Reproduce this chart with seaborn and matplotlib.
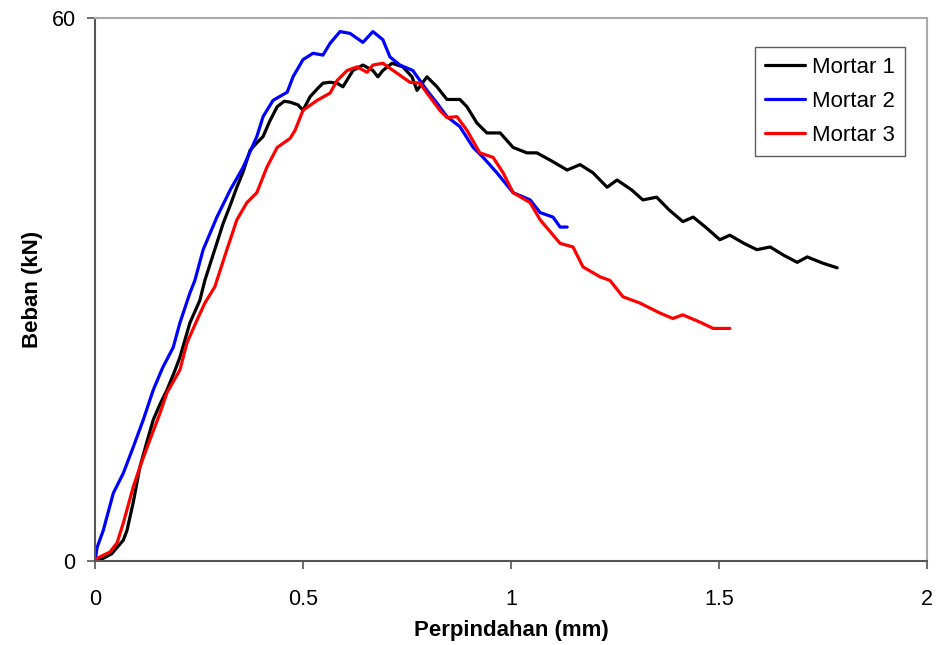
import numpy as np
import pandas as pd
import matplotlib
matplotlib.use('Agg')
import matplotlib.pyplot as plt
import seaborn as sns

# Mortar 1 (black)
m1_x = [0, 0.02, 0.04, 0.053, 0.068, 0.077, 0.092, 0.108, 0.125, 0.14, 0.156, 0.173, 0.19, 0.204,
        0.228, 0.252, 0.264, 0.285, 0.308, 0.325, 0.341, 0.356, 0.373, 0.389, 0.404, 0.42, 0.438,
        0.455, 0.469, 0.488, 0.5, 0.517, 0.535, 0.548, 0.565, 0.582, 0.596, 0.62, 0.644, 0.668,
        0.68, 0.692, 0.714, 0.74, 0.762, 0.774, 0.798, 0.822, 0.846, 0.877, 0.894, 0.918, 0.942,
        0.974, 1.005, 1.038, 1.062, 1.094, 1.135, 1.166, 1.197, 1.231, 1.255, 1.29, 1.317, 1.35,
        1.38, 1.413, 1.438, 1.47, 1.502, 1.526, 1.56, 1.591, 1.623, 1.655, 1.688, 1.712, 1.75, 1.784]
m1_y = [0, 0.3, 0.8, 1.5, 2.3, 3.4, 6.5, 10.4, 13.2, 15.6, 17.3, 18.9, 20.8, 22.5,
        26.3, 28.8, 31.0, 34.0, 37.3, 39.3, 41.3, 43.0, 45.4, 46.2, 46.9, 48.6, 50.2,
        50.8, 50.7, 50.4, 49.8, 51.3, 52.2, 52.8, 52.9, 52.8, 52.4, 54.2, 54.8, 54.2,
        53.5, 54.2, 55.0, 54.6, 53.5, 52.0, 53.5, 52.4, 51.0, 51.0, 50.2, 48.4, 47.3,
        47.3, 45.7, 45.1, 45.1, 44.3, 43.2, 43.8, 42.9, 41.3, 42.1, 41.0, 39.9, 40.2,
        38.8, 37.5, 38.0, 36.8, 35.5, 36.0, 35.1, 34.4, 34.7, 33.8, 33.0, 33.6, 32.9, 32.4]

# Mortar 2 (blue)
m2_x = [0, 0.005, 0.02, 0.044, 0.068, 0.092, 0.116, 0.14, 0.163, 0.188, 0.204, 0.228, 0.24,
        0.26, 0.293, 0.325, 0.356, 0.389, 0.404, 0.428, 0.462, 0.476, 0.5, 0.524, 0.548, 0.565,
        0.589, 0.613, 0.644, 0.668, 0.692, 0.709, 0.733, 0.764, 0.781, 0.798, 0.822, 0.846,
        0.877, 0.909, 0.933, 0.966, 1.005, 1.046, 1.07, 1.101, 1.118, 1.135]
m2_y = [0, 1.5, 3.4, 7.5, 9.7, 12.6, 15.6, 18.9, 21.4, 23.6, 26.3, 29.6, 31.0,
        34.4, 38.0, 41.0, 43.5, 46.9, 49.1, 50.9, 51.8, 53.5, 55.4, 56.1, 55.9, 57.2,
        58.5, 58.3, 57.3, 58.5, 57.6, 55.7, 54.8, 54.2, 53.1, 52.0, 50.6, 49.1,
        48.0, 45.7, 44.6, 42.9, 40.7, 39.9, 38.5, 38.0, 36.9, 36.9]

# Mortar 3 (red)
m3_x = [0, 0.005, 0.036, 0.053, 0.068, 0.092, 0.108, 0.132, 0.156, 0.173, 0.204, 0.221, 0.245,
        0.264, 0.288, 0.317, 0.341, 0.365, 0.389, 0.413, 0.438, 0.469, 0.481, 0.5, 0.534, 0.565,
        0.582, 0.606, 0.63, 0.654, 0.668, 0.692, 0.726, 0.757, 0.781, 0.798, 0.829, 0.846, 0.87,
        0.894, 0.925, 0.957, 0.981, 1.005, 1.046, 1.07, 1.118, 1.149, 1.173, 1.214, 1.238, 1.269,
        1.31, 1.358, 1.389, 1.413, 1.454, 1.486, 1.526]
m3_y = [0, 0.3, 1.0, 2.0, 4.2, 8.2, 10.4, 13.4, 16.3, 18.6, 21.1, 24.1, 26.6,
        28.5, 30.3, 34.4, 37.7, 39.6, 40.7, 43.5, 45.7, 46.7, 47.6, 49.8, 50.9, 51.7,
        53.1, 54.2, 54.6, 54.0, 54.8, 55.0, 53.9, 52.9, 52.8, 51.7, 49.8, 49.0, 49.1,
        47.6, 45.1, 44.6, 42.9, 40.7, 39.6, 37.7, 35.1, 34.7, 32.5, 31.4, 31.0, 29.2,
        28.5, 27.4, 26.8, 27.2, 26.4, 25.7, 25.7]

labels = ['Mortar 1', 'Mortar 2', 'Mortar 3']
colors = ['#000000', '#0000ff', '#ff0000']

df = pd.concat([
    pd.DataFrame({'x': m1_x, 'y': m1_y, 'series': labels[0]}),
    pd.DataFrame({'x': m2_x, 'y': m2_y, 'series': labels[1]}),
    pd.DataFrame({'x': m3_x, 'y': m3_y, 'series': labels[2]}),
], ignore_index=True)

sns.set_style('white')
plt.rcParams['font.family'] = ['Liberation Sans', 'DejaVu Sans']
plt.rcParams['text.color'] = 'black'
plt.rcParams['axes.labelcolor'] = 'black'
plt.rcParams['xtick.labelcolor'] = 'black'
plt.rcParams['ytick.labelcolor'] = 'black'

fig = plt.figure(figsize=(9.36, 6.45), dpi=100)
ax = fig.add_axes([0.1015, 0.1302, 0.8889, 0.8419])

sns.lineplot(data=df, x='x', y='y', hue='series', palette=dict(zip(labels, colors)),
             sort=False, estimator=None, linewidth=2.3, ax=ax)

ax.set_xlim(0, 2)
ax.set_ylim(0, 60)
ax.set_xticks([0, 0.5, 1, 1.5, 2])
ax.set_xticklabels(['0', '0.5', '1', '1.5', '2'])
ax.set_yticks([0, 60])
ax.set_yticklabels(['0', '60'])
ax.tick_params(axis='both', direction='out', length=6, width=1.2, color='#555555',
               labelsize=15.5, left=True, bottom=True)
ax.tick_params(axis='x', pad=14)
ax.tick_params(axis='y', pad=8)
ax.set_xlabel('Perpindahan (mm)', fontsize=16, fontweight='bold', labelpad=7)
ax.set_ylabel('Beban (kN)', fontsize=16, fontweight='bold', labelpad=6)

for side in ['left', 'bottom']:
    ax.spines[side].set_color('#555555')
    ax.spines[side].set_linewidth(1.5)
for side in ['top', 'right']:
    ax.spines[side].set_color('#aaaaaa')
    ax.spines[side].set_linewidth(1.5)

leg = ax.legend(loc='upper right', bbox_to_anchor=(0.974, 0.947), borderaxespad=0,
                fontsize=16, frameon=True, fancybox=False, handlelength=1.8,
                handletextpad=0.35, borderpad=0.45, labelspacing=0.58)
leg.get_frame().set_edgecolor('#333333')
leg.get_frame().set_linewidth(1.0)
for line in leg.get_lines():
    line.set_linewidth(2.3)

fig.savefig('out.png', dpi=100)
